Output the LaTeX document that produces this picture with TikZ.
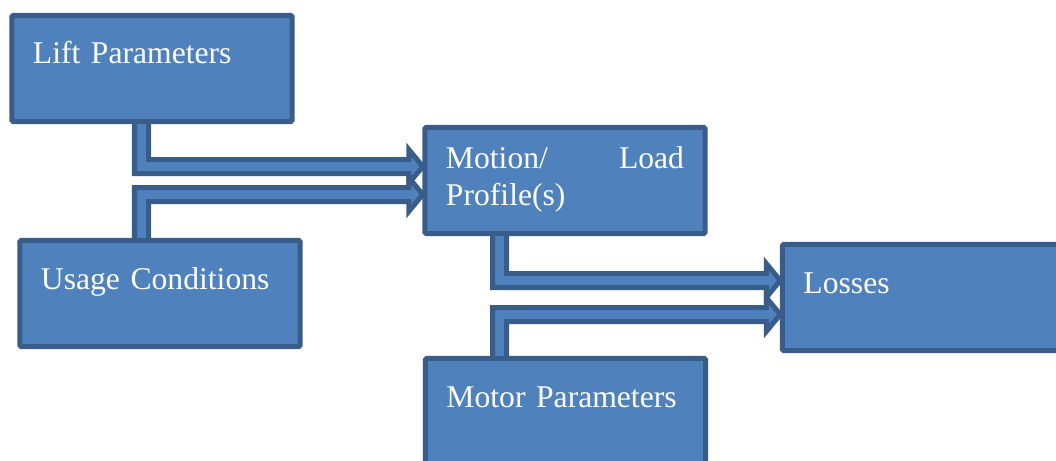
\documentclass[tikz,border=0pt]{standalone}
\usepackage{fontspec}
\setmainfont{Liberation Serif}
\usetikzlibrary{calc}
\definecolor{boxfill}{HTML}{4F81BD}
\definecolor{boxline}{HTML}{385D8A}
\tikzset{
  blk/.style={draw=boxline, fill=boxfill, line width=0.125cm, rounded corners=1pt, outer sep=0pt,
    text=white, font=\fontsize{22.5}{26.2}\selectfont, align=left, text width=5.95cm,
    inner xsep=0.53cm, inner ysep=0pt, text height=1.2125cm, text depth=1.4375cm},
  twoline/.style={text height=1.0375cm, text depth=1.6125cm},
  elbow/.style={draw=boxline, fill=boxfill, line width=0.125cm},
}
\def\shaftw{0.175cm}
\def\headw{0.425cm}
\def\headl{0.35cm}
% elbow block arrow: #1 start on box edge, #2 tip, #3 = 1 runs down, -1 runs up
\newcommand{\elbowarrow}[3]{%
  \draw[elbow] let \p1=(#1), \p2=(#2) in
    ({\x1-\shaftw},\y1) -- ({\x1-\shaftw},{\y2-(#3)*\shaftw}) -- ({\x2-\headl},{\y2-(#3)*\shaftw})
    -- ({\x2-\headl},{\y2-(#3)*\headw}) -- (\x2,\y2) -- ({\x2-\headl},{\y2+(#3)*\headw})
    -- ({\x2-\headl},{\y2+(#3)*\shaftw}) -- ({\x1+\shaftw},{\y2+(#3)*\shaftw}) -- ({\x1+\shaftw},\y1) -- cycle;}

\begin{document}
\begin{tikzpicture}[x=0.025cm, y=-0.025cm]
  \clip (0,0) rectangle (1056,460);
  % inputs
  \node[blk] (lift) at (152,68.5) {Lift Parameters};
  \node[blk] (usage) at (160,293.5) {Usage Conditions};
  \node[blk] (motor) at (565.5,411.5) {Motor Parameters};
  % middle and output
  \node[blk, twoline] (motion) at (565,180.5) {Motion/\hfill Load\\Profile(s)};
  \node[blk] (losses) at (922.5,297.5) {Losses};
  % block arrows
  \elbowarrow{$(lift.south)+(-10.5,0)$}{$(motion.west)+(-2,-14)$}{1}
  \elbowarrow{$(usage.north)+(-18.5,0)$}{$(motion.west)+(-2,14)$}{-1}
  \elbowarrow{$(motion.south)+(-65.5,0)$}{$(losses.west)+(-2,-17)$}{1}
  \elbowarrow{$(motor.north)+(-66,0)$}{$(losses.west)+(-2,17)$}{-1}
\end{tikzpicture}
\end{document}
